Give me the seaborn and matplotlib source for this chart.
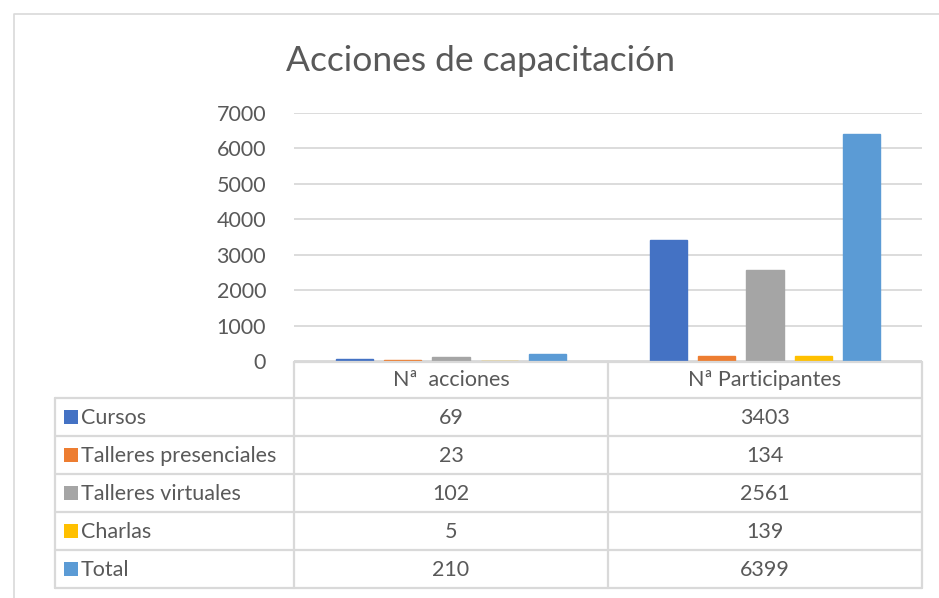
import matplotlib
matplotlib.use("Agg")
import matplotlib.pyplot as plt
import seaborn as sns
import pandas as pd

# ─── Data ───────────────────────────────────────────────────────────────────
tipos = ["Cursos", "Talleres presenciales", "Talleres virtuales", "Charlas", "Total"]
metricas = ["Nª  acciones", "Nª Participantes"]
acciones = [69, 23, 102, 5, 210]
participantes = [3403, 134, 2561, 139, 6399]
colores = ["#4472C4", "#ED7D31", "#A5A5A5", "#FFC000", "#5B9BD5"]
yticks = [0, 1000, 2000, 3000, 4000, 5000, 6000, 7000]

df = pd.DataFrame({
    "metrica": [metricas[0]] * len(tipos) + [metricas[1]] * len(tipos),
    "tipo": tipos * 2,
    "valor": acciones + participantes,
})

sns.set_theme(style="white")
plt.rcParams["font.family"] = ["Lato", "DejaVu Sans"]

W, H = 939, 598
fig = plt.figure(figsize=(W / 100, H / 100), dpi=100)
GRID = "#D9D9D9"
TXT = "#595959"
FS = 15.5

# plot area in pixel coords
x0, x1, ytop, ybot = 294, 922, 113, 361
ax = fig.add_axes([x0 / W, (H - ybot) / H, (x1 - x0) / W, (ybot - ytop) / H])
sns.barplot(data=df, x="metrica", y="valor", hue="tipo", hue_order=tipos,
            palette=colores, saturation=1, width=0.77, gap=0.23,
            legend=False, ax=ax)
# Excel-style thin bar outline (keeps tiny bars visible)
for p in ax.patches:
    p.set_edgecolor(p.get_facecolor())
    p.set_linewidth(1.0)
ax.set_ylim(0, 7000)
ax.set_xlim(-0.5, 1.5)
ax.set_yticks(yticks)
ax.yaxis.grid(True, color=GRID, lw=1.3)
ax.set_axisbelow(True)
for s in ax.spines.values():
    s.set_visible(False)
ax.set_xticks([])
ax.set_xlabel("")
ax.set_ylabel("")
ax.tick_params(axis="y", length=0, pad=20, labelsize=FS, labelcolor=TXT)

# overlay in pixel coordinates for title, border and data table
ov = fig.add_axes([0, 0, 1, 1], zorder=5)
ov.set_xlim(0, W)
ov.set_ylim(H, 0)
ov.axis("off")
ov.patch.set_alpha(0)

# outer chart border
ov.plot([14, 14, W + 5], [H + 5, 14, 14], color=GRID, lw=1.2)

ov.text(480, 61, "Acciones de capacitación", ha="center", va="center",
        fontsize=25.5, color=TXT)

# table grid
rows = [398, 436, 474, 512, 550, 588]
cols = [55, 294, 608, 922]
lw = 1.6
ov.plot([294, 922], [362, 362], color=GRID, lw=lw)
for y in rows:
    ov.plot([55, 922], [y, y], color=GRID, lw=lw)
ov.plot([55, 55], [398, 588], color=GRID, lw=lw)
for x in cols[1:]:
    ov.plot([x, x], [362, 588], color=GRID, lw=lw)

# header
for i, m in enumerate(metricas):
    ov.text((cols[i + 1] + cols[i + 2]) / 2, (361 + 398) / 2 + 1, m,
            ha="center", va="center", fontsize=FS, color=TXT)

# rows
for r, t in enumerate(tipos):
    yc = (rows[r] + rows[r + 1]) / 2
    ov.add_patch(plt.Rectangle((64, yc - 7), 14, 14, color=colores[r], lw=0))
    ov.text(81, yc + 1, t, ha="left", va="center", fontsize=FS, color=TXT)
    ov.text((cols[1] + cols[2]) / 2, yc + 1, str(acciones[r]),
            ha="center", va="center", fontsize=FS, color=TXT)
    ov.text((cols[2] + cols[3]) / 2, yc + 1, str(participantes[r]),
            ha="center", va="center", fontsize=FS, color=TXT)

fig.savefig("out.png", dpi=100)
